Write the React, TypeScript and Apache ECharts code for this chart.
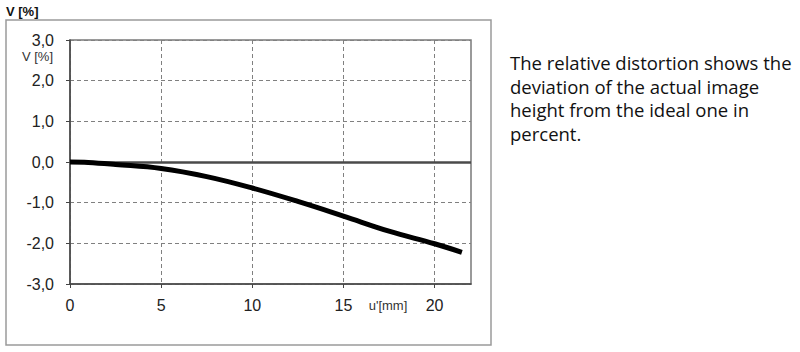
import React, { useEffect, useRef } from "react";
import * as echarts from "echarts";

const xValues = [0, 1, 2.5, 5, 7.5, 10, 12.5, 15, 17.5, 20, 21.5];
const distortion = [0, -0.01, -0.06, -0.16, -0.36, -0.64, -0.97, -1.33, -1.7, -2.01, -2.22];
const xTicks = [0, 5, 10, 15, 20];
const yAxisTitle = "V [%]";
const xAxisTitle = "u'[mm]";
const sideNote = "The relative distortion shows the\ndeviation of the actual image\nheight from the ideal one in\npercent.";

export default function App() {
  const ref = useRef<HTMLDivElement>(null);
  useEffect(() => {
    if (!ref.current) return;
    const chart = echarts.init(ref.current, null, { renderer: "svg" });
    const font = "'Liberation Sans', Arial, sans-serif";
    chart.setOption({
      animation: false,
      backgroundColor: "#ffffff",
      grid: {
        left: 70,
        top: 40,
        right: 329,
        bottom: 68,
        show: true,
        borderColor: "#7a7a7a",
        borderWidth: 1.5,
        backgroundColor: "transparent",
      },
      xAxis: {
        type: "value",
        min: 0,
        max: 22,
        interval: 5,
        axisLine: { show: true, onZero: false, lineStyle: { color: "#444", width: 1.5 } },
        axisTick: { show: true, inside: false, length: 4, customValues: xTicks, lineStyle: { color: "#444" } },
        axisLabel: {
          customValues: xTicks,
          margin: 13,
          fontSize: 16,
          fontFamily: font,
          color: "#222",
        },
        splitLine: { show: true, lineStyle: { color: "#808080", type: [4, 3], width: 1 } },
      },
      yAxis: {
        type: "value",
        min: -3,
        max: 3,
        interval: 1,
        axisLine: { show: true, onZero: false, lineStyle: { color: "#444", width: 1.5 } },
        axisTick: { show: true, inside: false, length: 4, lineStyle: { color: "#444" } },
        axisLabel: {
          margin: 16,
          fontSize: 16,
          fontFamily: font,
          color: "#222",
          formatter: (v: number) => v.toFixed(1).replace(".", ","),
        },
        splitLine: { show: true, lineStyle: { color: "#808080", type: [4, 3], width: 1 } },
      },
      series: [
        {
          type: "line",
          data: xValues.map((x, i) => [x, distortion[i]]),
          smooth: 0.4,
          showSymbol: false,
          lineStyle: { color: "#000", width: 5 },
          z: 5,
          markLine: {
            silent: true,
            symbol: "none",
            label: { show: false },
            lineStyle: { color: "#4a4a4a", width: 2.5, type: "solid" },
            data: [{ yAxis: 0 }],
            z: 4,
          },
        },
      ],
      graphic: [
        {
          type: "rect",
          shape: { x: 6, y: 20, width: 485, height: 325 },
          style: { fill: "none", stroke: "#9a9a9a", lineWidth: 1.5 },
          silent: true,
        },
        {
          type: "text",
          x: 6,
          y: 5,
          style: { text: yAxisTitle, font: `bold 13px ${font}`, fill: "#111" },
        },
        {
          type: "text",
          x: 53,
          y: 50,
          style: { text: yAxisTitle, font: `13px ${font}`, fill: "#333", align: "right" },
        },
        {
          type: "text",
          x: 388,
          y: 305,
          style: { text: xAxisTitle, font: `13px ${font}`, fill: "#333", align: "center", verticalAlign: "middle" },
        },
        {
          type: "text",
          x: 510,
          y: 51,
          style: {
            text: sideNote,
            font: `18.5px 'Open Sans', 'Noto Sans', sans-serif`,
            lineHeight: 23.5,
            fill: "#111",
          },
        },
      ],
    });
    return () => chart.dispose();
  }, []);
  return <div ref={ref} style={{ position: "fixed", left: 0, top: 0, width: 800, height: 352 }} />;
}
